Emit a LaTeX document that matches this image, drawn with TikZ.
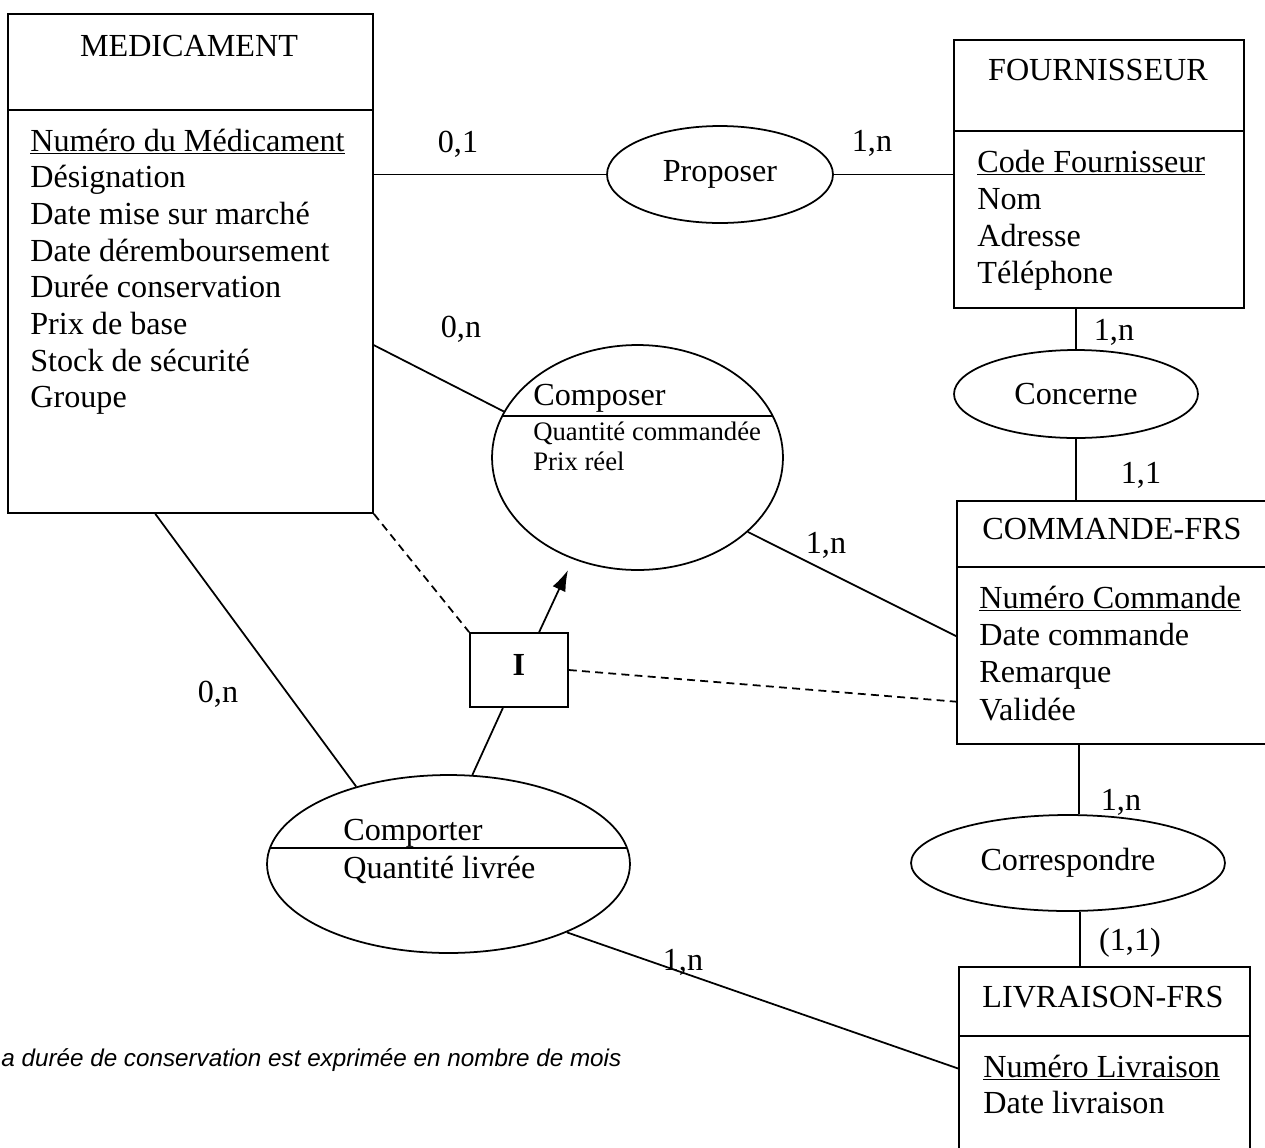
\documentclass[tikz,border=0pt]{standalone}
\usepackage{fontspec}
\setmainfont{Liberation Serif}
\newfontfamily\notefont{Liberation Sans}
\usetikzlibrary{shapes.geometric,fit,calc,arrows.meta}
\newcommand{\mainsz}{\fontsize{18.3}{21}\selectfont}
\newcommand{\smallsz}{\fontsize{15.2}{18}\selectfont}
\begin{document}
\begin{tikzpicture}[x=0.02cm,y=-0.02cm,
  ent/.style={draw, line width=1pt, inner sep=0pt, rectangle},
  rel/.style={draw, line width=1pt, ellipse, inner sep=0pt, font=\mainsz},
  lnk/.style={line width=1pt},
  dsh/.style={line width=1pt, dash pattern=on 4.5pt off 3pt},
  attr/.style={anchor=base west, inner sep=0pt, font=\mainsz},
  sattr/.style={anchor=base west, inner sep=0pt, font=\smallsz},
  ttl/.style={anchor=base, inner sep=0pt, font=\mainsz},
  card/.style={anchor=base, inner sep=0pt, font=\mainsz},
]
\path[use as bounding box, clip] (0,0) rectangle (1265,1147);
\fill[white] (0,0) rectangle (1265,1147);

% ---------- entities ----------
\node[ent, fit={(8,14)(373,513)}] (med) {};
\node[ent, fit={(954,40)(1244,308)}] (four) {};
\node[ent, fit={(957,501)(1266,744)}] (cmd) {};
\node[ent, fit={(959,967)(1250,1170)}] (liv) {};

\coordinate (medd) at ($(med.north west)+(0,97)$);
\coordinate (fourd) at ($(four.north west)+(0,92)$);
\coordinate (cmdd) at ($(cmd.north west)+(0,67)$);
\coordinate (livd) at ($(liv.north west)+(0,70)$);
\draw[lnk] (medd) -- (medd -| med.east);
\draw[lnk] (fourd) -- (fourd -| four.east);
\draw[lnk] (cmdd) -- (cmdd -| cmd.east);
\draw[lnk] (livd) -- (livd -| liv.east);

\node[ttl] (medT) at (189,56) {MEDICAMENT};
\node[ttl] (fourT) at (1098,80) {FOURNISSEUR};
\node[ttl] (cmdT) at (1112,539) {COMMANDE-FRS};
\node[ttl] (livT) at (1103,1007) {LIVRAISON-FRS};

\foreach \t [count=\i from 0] in {{\underline{Numéro du Médicament}},Désignation,Date mise sur marché,Date déremboursement,Durée conservation,Prix de base,Stock de sécurité,Groupe}
  \node[attr] (meda\i) at (30,{151+36.7*\i}) {\t};
\foreach \t [count=\i from 0] in {{\underline{Code Fournisseur}},Nom,Adresse,Téléphone}
  \node[attr] (foura\i) at (977,{172+37*\i}) {\t};
\node[attr] (cmda0) at (979,608) {\underline{Numéro Commande}};
\node[attr] (cmda1) at (979,645) {Date commande};
\node[attr] (cmda2) at (979,682) {Remarque};
\node[attr] (cmda3) at (979,720) {Validée};
\node[attr] (liva0) at (983,1077) {\underline{Numéro Livraison}};
\node[attr] (liva1) at (983,1113) {Date livraison};

% ---------- relations ----------
\node[rel, minimum width=4.52cm, minimum height=1.94cm] (prop) at (720,174.5) {Proposer};
\node[rel, minimum width=4.88cm, minimum height=1.76cm] (conc) at (1076,394) {Concerne};
\node[rel, minimum width=6.28cm, minimum height=1.92cm] (corr) at (1068,863) {Correspondre};
\node[rel, minimum width=5.82cm, minimum height=4.5cm] (comp) at (637.5,457.5) {};
\node[rel, minimum width=7.26cm, minimum height=3.56cm] (cport) at (448.5,864) {};

\draw[lnk] ($(comp.center)+(-135,-41.5)$) -- ($(comp.center)+(135,-41.5)$);
\node[attr] (compT) at (533,405) {Composer};
\node[sattr] (compa0) at (533,440) {Quantité commandée};
\node[sattr] (compa1) at (533,470) {Prix réel};

\draw[lnk] ($(cport.center)+(-178.5,-16)$) -- ($(cport.center)+(178.5,-16)$);
\node[attr] (cportT) at (343,840) {Comporter};
\node[attr] (cporta0) at (343,878) {Quantité livrée};

% ---------- CIF box ----------
\node[ent, minimum width=1.96cm, minimum height=1.48cm] (ibox) at (519,670) {};
\node[anchor=base, inner sep=0pt, font=\mainsz\bfseries] (iboxT) at (519,675) {I};
\coordinate (tip) at (568,570);

% ---------- connectors ----------
\coordinate (corrN) at ($(corr.north)+(11,0)$);
\coordinate (corrS) at ($(corr.south)+(12,0)$);
\draw[lnk] (prop.west -| med.east) -- (prop.west);
\draw[lnk] (prop.east) -- (prop.east -| four.west);
\draw[lnk] (med.-24.8) -- (comp.161.7);
\draw[lnk] (comp.-34.6) -- (cmd.185.3);
\draw[lnk] (conc.north) -- (conc.north |- four.south);
\draw[lnk] (conc.south) -- (conc.south |- cmd.north);
\draw[lnk] (corrN) -- (corrN |- cmd.south);
\draw[lnk] (corrS) -- (corrS |- liv.north);
\draw[lnk] (med.-98.1) -- (cport.140.6);
\draw[lnk] (cport.75.7) -- (ibox.-113.4);
\draw[lnk, -{Latex[length=12pt,width=8pt]}] (ibox.62.8) -- (tip);
\draw[lnk] (cport.-30.9) -- (liv.west);
\draw[dsh] (med.south east) -- (ibox.north west);
\draw[dsh] (ibox.east) -- (cmd.207.1);

% ---------- cardinalities ----------
\node[card] (c01) at (458,152) {0,1};
\node[card] (c1n1) at (872,151) {1,n};
\node[card] (c0n1) at (461,337) {0,n};
\node[card] (c1n2) at (1114,340) {1,n};
\node[card] (c11) at (1141,483) {1,1};
\node[card] (c1n3) at (826,553) {1,n};
\node[card] (c0n2) at (218,702) {0,n};
\node[card] (c1n4) at (1121,810) {1,n};
\node[card] (c11b) at (1130,950) {(1,1)};
\node[card] (c1n5) at (683,970) {1,n};

% ---------- note ----------
\node[anchor=base west, inner sep=0pt, font=\notefont\itshape\fontsize{13.8}{16}\selectfont] (note) at (1,1066) {a durée de conservation est exprimée en nombre de mois};
\end{tikzpicture}
\end{document}
